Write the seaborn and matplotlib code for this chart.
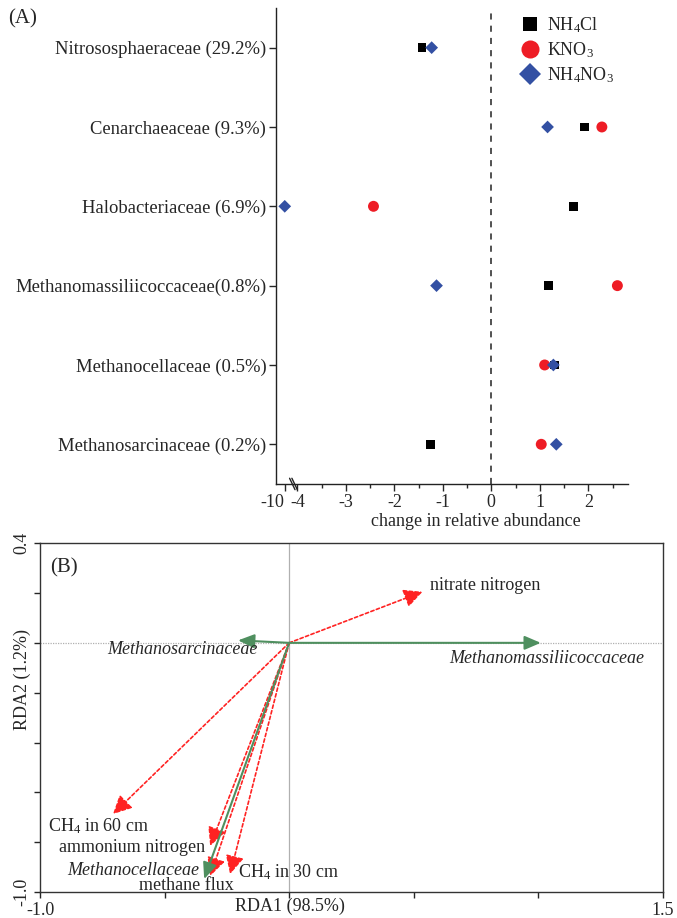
import matplotlib
matplotlib.use("Agg")
import matplotlib.pyplot as plt
import matplotlib.transforms as mtransforms
from matplotlib.lines import Line2D
import numpy as np
import pandas as pd
import seaborn as sns

# ---------------------------------------------------------------
# (A) cambio en abundancia relativa por familia y tratamiento
# ---------------------------------------------------------------
families = [
    "Nitrososphaeraceae (29.2%)",
    "Cenarchaeaceae (9.3%)",
    "Halobacteriaceae (6.9%)",
    "Methanomassiliicoccaceae(0.8%)",
    "Methanocellaceae (0.5%)",
    "Methanosarcinaceae (0.2%)",
]
nh4cl = [-1.43, 1.92, 1.69, 1.18, 1.30, -1.25]
kno3 = [np.nan, 2.28, -2.43, 2.60, 1.10, 1.03]
nh4no3 = [-1.23, 1.16, -10.0, -1.13, 1.28, 1.34]
treatments = ["NH$_4$Cl", "KNO$_3$", "NH$_4$NO$_3$"]
x_major = [-10, -4, -3, -2, -1, 0, 1, 2]
x_minor = [-3.5, -2.5, -1.5, -0.5, 0.5, 1.5, 2.5]

# ---------------------------------------------------------------
# (B) biplot RDA
# ---------------------------------------------------------------
env_vars = ["nitrate nitrogen", "CH$_4$ in 60 cm", "ammonium nitrogen",
            "methane flux", "CH$_4$ in 30 cm"]
env_rda1 = [0.535, -0.707, -0.317, -0.317, -0.237]
env_rda2 = [0.205, -0.687, -0.815, -0.936, -0.928]
taxa = ["Methanomassiliicoccaceae", "Methanosarcinaceae", "Methanocellaceae"]
taxa_rda1 = [1.01, -0.205, -0.341]
taxa_rda2 = [0.0, 0.01, -0.948]

FS = 13

sns.set_style("ticks")
plt.rcParams.update({
    "font.family": ["Liberation Serif", "DejaVu Serif"],
    "mathtext.fontset": "custom",
    "mathtext.rm": "Liberation Serif",
    "mathtext.it": "Liberation Serif:italic",
    "font.size": FS,
    "axes.linewidth": 1.0,
    "axes.edgecolor": "#222222",
})

colors = {"NH$_4$Cl": "#000000", "KNO$_3$": "#ee1c25", "NH$_4$NO$_3$": "#3350a3"}
markers = {"NH$_4$Cl": "s", "KNO$_3$": "o", "NH$_4$NO$_3$": "D"}
sizes = {"NH$_4$Cl": 38, "KNO$_3$": 62, "NH$_4$NO$_3$": 42}

df = pd.DataFrame({
    "family": families * 3,
    "treatment": np.repeat(treatments, len(families)),
    "change": nh4cl + kno3 + nh4no3,
})
df["pos"] = np.tile(np.arange(len(families)), 3)

fig = plt.figure(figsize=(6.77, 9.18), dpi=100)
axA = fig.add_axes([0.4077, 0.4728, 0.52, 0.5185])
axB = fig.add_axes([0.0591, 0.0283, 0.920, 0.380])

# escala rota en el eje x: todo lo que queda bajo -4 se comprime
BREAK, K = -4.0, 0.0433


def fwd(x):
    x = np.asarray(x, float)
    return np.where(x < BREAK, BREAK + (x - BREAK) * K, x)


def inv(u):
    u = np.asarray(u, float)
    return np.where(u < BREAK, BREAK + (u - BREAK) / K, u)


axA.set_xscale("function", functions=(fwd, inv))
for t in treatments:
    sub = df[df["treatment"] == t].dropna()
    sns.scatterplot(data=sub, x="change", y="pos", ax=axA, color=colors[t],
                    marker=markers[t], s=sizes[t], edgecolor="none",
                    linewidth=0, label=t, legend=False, zorder=3)

axA.axvline(0, color="#222222", ls=(0, (4, 4)), lw=1.1, zorder=1)
axA.set_xlim(-14.16, 2.82)
axA.set_ylim(5.5, -0.5)
axA.set_yticks(range(len(families)))
axA.set_yticklabels(families, fontsize=13.4)
axA.set_xticks(x_major)
axA.set_xticks(x_minor, minor=True)
labels = axA.set_xticklabels([str(v) for v in x_major])
labels[0].set_horizontalalignment("right")
axA.tick_params(axis="x", which="major", direction="out", length=5, width=1, pad=2,
                labelsize=FS)
axA.tick_params(axis="y", which="major", direction="out", length=5, width=1, pad=2)
axA.tick_params(axis="x", which="minor", direction="out", length=3, width=1)
axA.set_xlabel("change in relative abundance", fontsize=FS)
axA.xaxis.set_label_coords(0.567, -0.06)
axA.set_ylabel("")
sns.despine(ax=axA)

# marca de corte del eje
trans = mtransforms.blended_transform_factory(axA.transData, axA.transAxes)
for xb in (-6.4, -5.3):
    axA.plot([xb - 1.3, xb + 1.3], [0.012, -0.012], transform=trans,
             color="#222222", lw=1.0, clip_on=False)

handles = [Line2D([], [], ls="", marker=markers[t], color=colors[t],
                  markersize=ms, markeredgewidth=0)
           for t, ms in zip(treatments, [9.5, 13, 11.5])]
axA.legend(handles, treatments, loc="upper left", bbox_to_anchor=(0.67, 1.0),
           frameon=False, fontsize=FS, handletextpad=0.35, labelspacing=0.3,
           borderaxespad=0, handlelength=1.2)
fig.text(0.012, 0.980, "(A)", fontsize=15, va="center", ha="left")

# ---------------------------------------------------------------
# Panel B
# ---------------------------------------------------------------
axB.set_xlim(-1.0, 1.5)
axB.set_ylim(-1.0, 0.4)
axB.axhline(0, color="#b0b0b0", lw=0.9, ls=(0, (1, 1)), zorder=0)
axB.axvline(0, color="#b0b0b0", lw=0.9, zorder=0)

red = "#ff2222"
green = "#4f8f5f"
for name, x, y in zip(env_vars, env_rda1, env_rda2):
    axB.annotate("", xy=(x, y), xytext=(0, 0),
                 arrowprops=dict(arrowstyle="-|>,head_length=0.8,head_width=0.4",
                                 color=red, lw=1.2, ls=(0, (2, 1.5)),
                                 shrinkA=0, shrinkB=0, mutation_scale=14))
for name, x, y in zip(taxa, taxa_rda1, taxa_rda2):
    axB.annotate("", xy=(x, y), xytext=(0, 0),
                 arrowprops=dict(arrowstyle="-|>,head_length=0.7,head_width=0.3",
                                 color=green, lw=1.5, shrinkA=0, shrinkB=0,
                                 mutation_scale=14))

env_offsets = {
    "nitrate nitrogen": ((8, 6), "left"),
    "CH$_4$ in 60 cm": ((-65, -12), "left"),
    "ammonium nitrogen": ((-5, -2), "right"),
    "methane flux": ((-24, -9), "center"),
    "CH$_4$ in 30 cm": ((8, 2), "left"),
}
for name, x, y in zip(env_vars, env_rda1, env_rda2):
    off, ha = env_offsets[name]
    axB.annotate(name, xy=(x, y), xytext=off, textcoords="offset pixels",
                 ha=ha, va="center", fontsize=FS)

taxa_offsets = {
    "Methanomassiliicoccaceae": ((6, -16), "center"),
    "Methanosarcinaceae": ((20, -9), "right"),
    "Methanocellaceae": ((-5, 9), "right"),
}
for name, x, y in zip(taxa, taxa_rda1, taxa_rda2):
    off, ha = taxa_offsets[name]
    axB.annotate(name, xy=(x, y), xytext=off, textcoords="offset pixels",
                 ha=ha, va="center", fontsize=FS, style="italic")

axB.set_xticks(np.arange(-1.0, 1.51, 0.5))
axB.set_xticklabels(["-1.0", "", "", "", "", "1.5"])
axB.set_yticks(np.arange(-1.0, 0.41, 0.2))
axB.set_yticklabels(["-1.0", "", "", "", "", "", "", "0.4"], rotation=90, va="center")
axB.tick_params(axis="both", direction="out", length=4, width=1, labelsize=FS, pad=3)
axB.set_xlabel("RDA1 (98.5%)", fontsize=FS)
axB.xaxis.set_label_coords(0.401, -0.017)
axB.set_ylabel("RDA2 (1.2%)", fontsize=FS)
axB.yaxis.set_label_coords(-0.015, 0.61)
for s in axB.spines.values():
    s.set_color("#333333")
axB.text(0.016, 0.93, "(B)", transform=axB.transAxes, fontsize=15, va="center")

fig.savefig("out.png", dpi=100)
